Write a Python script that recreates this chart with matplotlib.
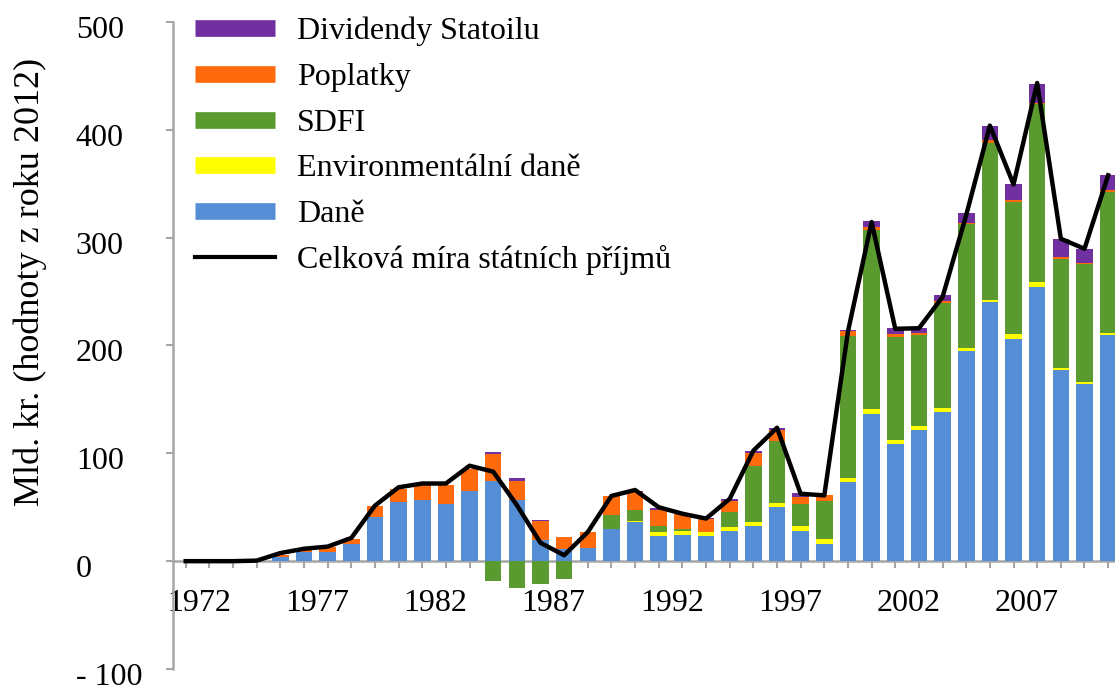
import numpy as np
import matplotlib
matplotlib.use('Agg')
from matplotlib import pyplot as plt
from matplotlib.lines import Line2D
from matplotlib.transforms import ScaledTranslation

# Data: years 1972-2011, billions NOK (2012 values)
years = list(range(1972, 2012))

dane = [0, 0, 0, 0, 3.7, 8.5, 8.5, 15.5, 40.8, 54.7,
        56.3, 53.2, 64.9, 73.9, 56.3, 19.8, 11.4, 12.4, 30.0, 36.2,
        23.8, 24.7, 22.9, 27.8, 32.2, 50.1, 27.8, 16.1, 73.3, 136.7,
        108.2, 121.2, 138.2, 194.8, 240.3, 206.2, 254.2, 176.9, 163.9, 209.3]
env_dane = [0, 0, 0, 0, 0, 0, 0, 0, 0, 0,
            0, 0, 0, 0, 0, 0, 0, 0, 0, 1.5,
            3.7, 3.7, 3.7, 3.7, 4.0, 3.7, 4.4, 4.3, 3.7, 4.0,
            3.8, 3.7, 4.0, 3.1, 2.1, 4.1, 4.6, 2.1, 2.1, 2.5]
sdfi = [0, 0, 0, 0, 0, 0, 0, 0, 0, 0,
        0, 0, 0, -18, -25, -21, -17, 0, 13.0, 9.9,
        5.5, 1.0, 0.5, 14.0, 51.6, 58.1, 21.0, 35.3, 131.4, 166.0,
        95.8, 85.0, 97.1, 115.0, 145.4, 122.7, 164.8, 101.5, 109.2, 130.5]
poplatky = [0, 0, 0, 0, 1.6, 2.0, 4.5, 5.2, 10.8, 12.3,
            13.9, 17.6, 20.7, 25.7, 17.9, 17.3, 10.9, 14.2, 17.0, 16.4,
            14.6, 14.0, 11.7, 10.2, 12.4, 9.3, 6.2, 5.5, 5.0, 3.1,
            2.5, 1.5, 1.8, 1.0, 2.4, 1.6, 1.6, 1.5, 1.2, 1.5]
dividendy = [0, 0, 0, 0, 0, 0, 0, 0, 0, 0,
             0, 0, 0, 1.2, 2.8, 1.2, 0, 0, 0.6, 1.0,
             1.6, 0.5, 1.0, 2.1, 1.8, 2.5, 3.7, 0.5, 1.2, 5.3,
             5.8, 5.0, 5.3, 9.2, 13.3, 14.8, 17.6, 16.4, 13.3, 14.0]
celkem = [0, 0, 0, 0.5, 7.5, 11.5, 13.5, 21.5, 51.5, 68.5,
          72.0, 72.0, 88.5, 83.0, 52.0, 17.0, 5.5, 27.0, 60.5, 66.0,
          50.0, 44.0, 39.5, 57.8, 102.5, 123.7, 62.5, 61.0, 213.0, 314.5,
          215.5, 216.0, 245.0, 321.0, 404.0, 349.4, 443.4, 299.0, 289.7, 357.8]

c_blue = '#558ED5'
c_yellow = '#FFFF00'
c_green = '#5B9A2F'
c_orange = '#FF6A0D'
c_purple = '#7030A0'

plt.rcParams['font.family'] = ['Liberation Serif', 'DejaVu Serif']

x = np.arange(len(years))
dane = np.array(dane)
env_dane = np.array(env_dane)
sdfi = np.array(sdfi)
poplatky = np.array(poplatky)
dividendy = np.array(dividendy)
sdfi_pos = np.clip(sdfi, 0, None)
sdfi_neg = np.clip(sdfi, None, 0)

fig = plt.figure(figsize=(11.15, 6.93), dpi=100)
ax = fig.add_axes([173 / 1115, 1 - 669 / 693, 1 - 173 / 1115, (669 - 22) / 693])

w = 0.7
b = np.zeros(len(x))
ax.bar(x, dane, w, bottom=b, color=c_blue, zorder=2)
b = b + dane
ax.bar(x, env_dane, w, bottom=b, color=c_yellow, zorder=2)
b = b + env_dane
ax.bar(x, sdfi_pos, w, bottom=b, color=c_green, zorder=2)
ax.bar(x, sdfi_neg, w, color=c_green, zorder=2)
b = b + sdfi_pos
ax.bar(x, poplatky, w, bottom=b, color=c_orange, zorder=2)
b = b + poplatky
ax.bar(x, dividendy, w, bottom=b, color=c_purple, zorder=2)
ax.plot(x, celkem, color='black', lw=3.2, zorder=3)

ax.set_xlim(-0.537, 39.29)
ax.set_ylim(-100, 500)

# osy
for s in ['top', 'right']:
    ax.spines[s].set_visible(False)
ax.spines['bottom'].set_position(('data', 0))
ax.spines['bottom'].set_color('#A6A6A6')
ax.spines['bottom'].set_linewidth(1.8)
ax.spines['left'].set_color('#A6A6A6')
ax.spines['left'].set_linewidth(1.8)
ax.spines['bottom'].set_zorder(1)

ax.set_xticks(x)
ax.set_xticklabels([str(y) if (y - 1972) % 5 == 0 else '' for y in years])
ax.tick_params(axis='x', direction='out', length=5, width=1.5, color='#A6A6A6',
               pad=15, labelsize=23)
ax.set_yticks([-100, 0, 100, 200, 300, 400, 500])
ax.set_yticklabels(['- 100', '0', '100', '200', '300', '400', '500'])
ax.tick_params(axis='y', direction='out', length=5, width=1.5, color='#A6A6A6',
               pad=65, labelsize=23)

off_x = ScaledTranslation(13 / 100, 0, fig.dpi_scale_trans)
for lab in ax.get_xticklabels():
    lab.set_transform(lab.get_transform() + off_x)
off_y = ScaledTranslation(0, -5 / 100, fig.dpi_scale_trans)
for lab in ax.get_yticklabels():
    lab.set_horizontalalignment('left')
    lab.set_transform(lab.get_transform() + off_y)

fig.text(30 / 1115, 1 - 282 / 693, 'Mld. kr. (hodnoty z roku 2012)', rotation=90,
         ha='center', va='center', fontsize=26)

handles = [Line2D([], [], color=c_purple, lw=12, solid_capstyle='butt'),
           Line2D([], [], color=c_orange, lw=12, solid_capstyle='butt'),
           Line2D([], [], color=c_green, lw=12, solid_capstyle='butt'),
           Line2D([], [], color=c_yellow, lw=12, solid_capstyle='butt'),
           Line2D([], [], color=c_blue, lw=12, solid_capstyle='butt'),
           Line2D([], [], color='black', lw=3.0)]
labels = ['Dividendy Statoilu', 'Poplatky', 'SDFI', 'Environmentální daně',
          'Daně', 'Celková míra státních příjmů']
fig.legend(handles, labels, loc='upper left', bbox_to_anchor=(195 / 1115, 1 - 17 / 693),
           frameon=False, fontsize=23, handlelength=2.5, handletextpad=0.7,
           labelspacing=0.51, borderpad=0, borderaxespad=0)

fig.savefig('out.png', dpi=100)
